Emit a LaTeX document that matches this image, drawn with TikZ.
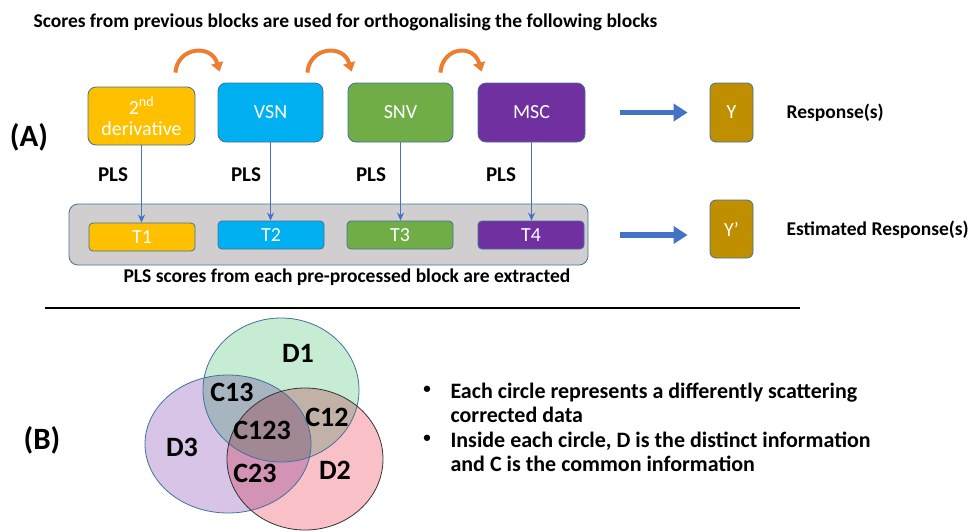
\documentclass[tikz,border=0pt]{standalone}
\usepackage{fontspec}
\setmainfont{Carlito}
\usetikzlibrary{arrows.meta,calc}
\definecolor{DerClr}{HTML}{FFC000}
\definecolor{VsnClr}{HTML}{00B0F0}
\definecolor{SnvClr}{HTML}{70AD47}
\definecolor{MscClr}{HTML}{7030A0}
\definecolor{RespClr}{HTML}{BF8F00}
\definecolor{EdgeClr}{HTML}{41719C}
\definecolor{ArrClr}{HTML}{4472C4}
\definecolor{TurnClr}{HTML}{ED7D31}
\definecolor{PanelClr}{HTML}{D0CECE}
\definecolor{DOneClr}{HTML}{C6ECD4}
\definecolor{DTwoClr}{HTML}{FAC0C8}
\definecolor{DThreeClr}{HTML}{D7C4E6}

\begin{document}
\begin{tikzpicture}[x=1pt,y=-1pt,
  block/.style={draw=EdgeClr,line width=0.8pt,rounded corners=8pt,text=white,
    align=center,font=\fontsize{20}{21}\selectfont,inner sep=0pt},
  tbox/.style={draw=EdgeClr,line width=0.8pt,rounded corners=4pt,text=white,
    minimum width=106pt,minimum height=28pt,font=\fontsize{20}{21}\selectfont,inner sep=0pt},
  lbl/.style={font=\bfseries\fontsize{19.5}{22}\selectfont},
  bigarrow/.style={ArrClr,line width=5.5pt,-{Triangle[width=17pt,length=14pt]}},
  plsarrow/.style={ArrClr,line width=1.5pt,-{Stealth[width=7pt,length=8pt]}},
  turn/.style={TurnClr,line width=4pt,-{Triangle[width=12pt,length=9pt]}},
  vlbl/.style={font=\bfseries\fontsize{28}{30}\selectfont},
  item/.style={font=\bfseries\fontsize{22}{24.5}\selectfont}]
\useasboundingbox (0,0) rectangle (968,531);

\node[lbl,anchor=west] (title) at (30,22)
  {Scores from previous blocks are used for orthogonalising the following blocks};
\node[font=\bfseries\fontsize{31}{33}\selectfont] (A) at (29,137) {(A)};
\node[font=\bfseries\fontsize{31}{33}\selectfont] (B) at (42,440) {(B)};

% pre-processed blocks
\node[block,fill=DerClr,minimum width=107pt,minimum height=58pt] (der) at (141.5,116)
  {2\textsuperscript{nd}\\derivative};
\node[block,fill=VsnClr,minimum width=105pt,minimum height=59pt] (vsn) at (270.5,112.5) {VSN};
\node[block,fill=SnvClr,minimum width=105pt,minimum height=59pt] (snv) at (400.5,112.5) {SNV};
\node[block,fill=MscClr,minimum width=107pt,minimum height=59pt] (msc) at (531.5,112.5) {MSC};

\draw[turn] ($(der.north east)+(-20,-14)$) .. controls +(2,-26) and +(-8,-28) .. ($(vsn.north west)+(2,-11)$);
\draw[turn] ($(vsn.north east)+(-16,-10)$) .. controls +(2,-26) and +(-8,-28) .. ($(snv.north west)+(4,-11)$);
\draw[turn] ($(snv.north east)+(-13,-10)$) .. controls +(2,-26) and +(-8,-28) .. ($(msc.north west)+(4,-11)$);

% scores
\node[draw=EdgeClr,line width=0.8pt,fill=PanelClr,rounded corners=9pt,
  minimum width=519pt,minimum height=61pt] (panel) at (328.5,234.5) {};
\node[tbox,fill=DerClr] (t1) at (142,237) {T1};
\node[tbox,fill=VsnClr] (t2) at (271,235) {T2};
\node[tbox,fill=SnvClr] (t3) at (400,235) {T3};
\node[tbox,fill=MscClr] (t4) at (531,235) {T4};

\draw[plsarrow] (der.south) -- (der.south |- t1.north);
\draw[plsarrow] (vsn.south) -- (vsn.south |- t2.north);
\draw[plsarrow] (snv.south) -- (snv.south |- t3.north);
\draw[plsarrow] (msc.south) -- (msc.south |- t4.north);

\node[lbl,font=\bfseries\fontsize{21}{23}\selectfont] (p1) at (113,175) {PLS};
\node[lbl,font=\bfseries\fontsize{21}{23}\selectfont] (p2) at (246,175) {PLS};
\node[lbl,font=\bfseries\fontsize{21}{23}\selectfont] (p3) at (371,175) {PLS};
\node[lbl,font=\bfseries\fontsize{21}{23}\selectfont] (p4) at (501,175) {PLS};

\node[lbl] (caption) at (347,277) {PLS scores from each pre-processed block are extracted};

% responses
\node[block,fill=RespClr,minimum width=43pt,minimum height=59pt,rounded corners=6pt] (y) at (731.5,112.5) {Y};
\node[block,fill=RespClr,minimum width=43pt,minimum height=58pt,rounded corners=6pt] (yy) at (731.5,229) {Y’};
\draw[bigarrow,shorten <=35pt,shorten >=22pt] (msc.east) -- (y.west);
\draw[bigarrow,shorten <=32pt,shorten >=22pt] ($(yy.west -| panel.east)+(0,6)$) -- ($(yy.west)+(0,6)$);
\node[lbl,anchor=west] (r1) at (783,113) {Response(s)};
\node[lbl,anchor=west] (r2) at (783,230) {Estimated Response(s)};

\draw[line width=2pt] (45,308) -- (800,308);

% venn
\begin{scope}[blend group=multiply]
\fill[DThreeClr] (228,444) ellipse [x radius=83,y radius=69];
\fill[DOneClr] (281,390) ellipse [x radius=78,y radius=72];
\fill[DTwoClr] (305,459) ellipse [x radius=78,y radius=71];
\end{scope}
\draw[EdgeClr,line width=0.8pt] (228,444) ellipse [x radius=83,y radius=69];
\draw[EdgeClr,line width=0.8pt] (281,390) ellipse [x radius=78,y radius=72];
\draw[black!80,line width=0.8pt] (305,459) ellipse [x radius=78,y radius=71];

\node[vlbl] (d1) at (298,353) {D1};
\node[vlbl] (c13) at (232,392) {C13};
\node[vlbl] (c12) at (327,417) {C12};
\node[vlbl] (c123) at (262,430) {C123};
\node[vlbl] (d3) at (182,447) {D3};
\node[vlbl] (c23) at (255,473) {C23};
\node[vlbl] (d2) at (335,470) {D2};

\node[item,font=\bfseries\fontsize{15}{16}\selectfont] (b1) at (427,390) {\textbullet};
\node[item,anchor=north west,align=left] (i1) at (447,379)
  {Each circle represents a differently scattering\\corrected data};
\node[item,font=\bfseries\fontsize{15}{16}\selectfont] (b2) at (427,439) {\textbullet};
\node[item,anchor=north west,align=left] (i2) at (447,428)
  {Inside each circle, D is the distinct information\\and C is the common information};
\end{tikzpicture}
\end{document}
